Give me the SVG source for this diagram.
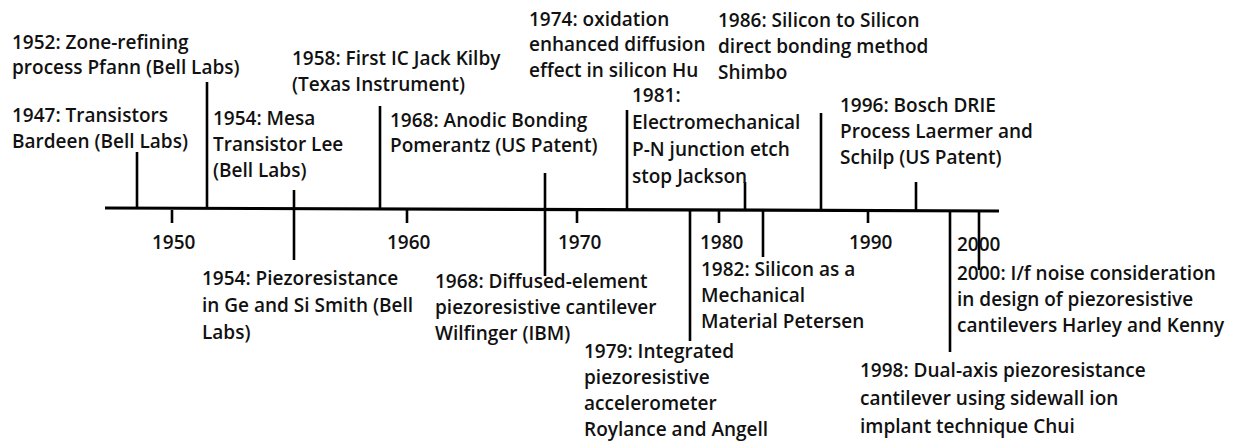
<svg xmlns="http://www.w3.org/2000/svg" width="1236" height="445" viewBox="0 0 1236 445">
<style>
text{font-family:"Open Sans","Noto Sans","Liberation Sans",sans-serif;font-weight:600;font-size:19px;fill:#111}
.ln{stroke:#000;stroke-width:2.6;fill:none}
.ax{stroke:#000;stroke-width:3.2;fill:none}
</style>
<rect width="1236" height="445" fill="#fff"/>
<g id="connectors">
<path class="ax" d="M105 208 L999 211"/>
<path class="ln" d="M137 208 V152 M207 208 V82 M294 190 V260 M380 209 V106 M545 173 V276 M627 210 V110 M745 210 V182 M821 210 V113 M916 211 V182"/>
<path class="ln" d="M172 210 V223 M407 210 V223 M577 210 V223 M719 211 V223 M868 211 V223"/>
<path class="ln" d="M690 210 V341 M763 210 V257 M950 211 V352 M979 211 V270"/>
</g>
<g id="n1952"><text x="12" y="49">1952: Zone-refining</text><text x="12" y="74">process Pfann (Bell Labs)</text></g>
<g id="n1947"><text x="12" y="122">1947: Transistors</text><text x="12" y="148">Bardeen (Bell Labs)</text></g>
<g id="n1954a"><text x="213" y="125">1954: Mesa</text><text x="213" y="151">Transistor Lee</text><text x="213" y="177">(Bell Labs)</text></g>
<g id="n1958"><text x="292" y="65">1958: First IC Jack Kilby</text><text x="292" y="91">(Texas Instrument)</text></g>
<g id="n1968a"><text x="390" y="127">1968: Anodic Bonding</text><text x="390" y="152">Pomerantz (US Patent)</text></g>
<g id="n1974"><text x="529" y="26">1974: oxidation</text><text x="529" y="51">enhanced diffusion</text><text x="529" y="77">effect in silicon Hu</text></g>
<g id="n1986"><text x="718" y="27">1986: Silicon to Silicon</text><text x="718" y="53">direct bonding method</text><text x="718" y="79">Shimbo</text></g>
<g id="n1981"><text x="632" y="102">1981:</text><text x="632" y="129">Electromechanical</text><text x="632" y="156">P-N junction etch</text><text x="632" y="183">stop Jackson</text></g>
<g id="n1996"><text x="840" y="112">1996: Bosch DRIE</text><text x="840" y="138">Process Laermer and</text><text x="840" y="164">Schilp (US Patent)</text></g>
<g id="years"><text x="152" y="249">1950</text><text x="387" y="249">1960</text><text x="558" y="249">1970</text><text x="700" y="249">1980</text><text x="849" y="249">1990</text><text x="957" y="251">2000</text></g>
<g id="n1954b"><text x="202" y="285">1954: Piezoresistance</text><text x="202" y="312">in Ge and Si Smith (Bell</text><text x="202" y="339">Labs)</text></g>
<g id="n1968b"><text x="435" y="288">1968: Diffused-element</text><text x="435" y="314">piezoresistive cantilever</text><text x="435" y="340">Wilfinger (IBM)</text></g>
<g id="n1982"><text x="701" y="276">1982: Silicon as a</text><text x="701" y="302">Mechanical</text><text x="701" y="328">Material Petersen</text></g>
<g id="n2000"><text x="957" y="280">2000: I/f noise consideration</text><text x="957" y="306">in design of piezoresistive</text><text x="957" y="332">cantilevers Harley and Kenny</text></g>
<g id="n1979"><text x="584" y="358">1979: Integrated</text><text x="584" y="384">piezoresistive</text><text x="584" y="410">accelerometer</text><text x="584" y="436">Roylance and Angell</text></g>
<g id="n1998"><text x="860" y="377">1998: Dual-axis piezoresistance</text><text x="860" y="405">cantilever using sidewall ion</text><text x="860" y="433">implant technique Chui</text></g>
</svg>
